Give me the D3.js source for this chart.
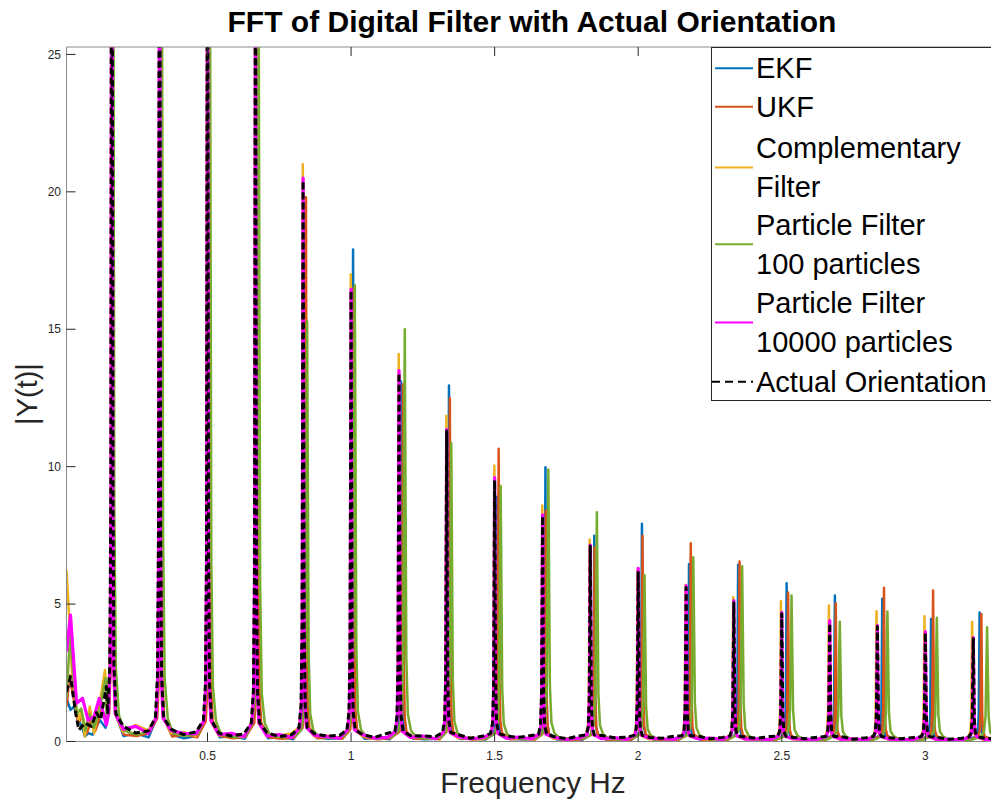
<!DOCTYPE html>
<html>
<head>
<meta charset="utf-8">
<script src="https://cdn.jsdelivr.net/npm/d3@7"></script>
<style>
  body { margin: 0; background: #fff; }
  text { font-family: "Liberation Sans", Arial, sans-serif; }
</style>
</head>
<body>
<div id="chart"></div>
<script>
// Series names and colours (MATLAB default order + magenta + black dashed)
const seriesNames = ["EKF", "UKF", "Complementary Filter", "Particle Filter 100 particles", "Particle Filter 10000 particles", "Actual Orientation"];
const seriesColors = ["#0072BD", "#D95319", "#EDB120", "#77AC30", "#FF00FF", "#000000"];

// Harmonic peak frequencies (Hz), one array per series
const peakFreqEKF  = [0.168, 0.335, 0.503, 0.671, 0.838, 1.007, 1.174, 1.341, 1.509, 1.677, 1.847, 2.013, 2.177, 2.348, 2.517, 2.685, 2.850, 3.020, 3.189];
const peakFreqUKF  = [0.169, 0.337, 0.506, 0.675, 0.843, 1.009, 1.181, 1.344, 1.514, 1.678, 1.848, 2.015, 2.183, 2.353, 2.522, 2.688, 2.856, 3.027, 3.195];
const peakFreqComp = [0.166, 0.333, 0.499, 0.666, 0.832, 0.999, 1.166, 1.332, 1.499, 1.666, 1.831, 1.998, 2.165, 2.331, 2.497, 2.664, 2.830, 2.997, 3.163];
const peakFreqPF100 = [0.170, 0.340, 0.508, 0.678, 0.847, 1.013, 1.187, 1.349, 1.521, 1.687, 1.856, 2.022, 2.192, 2.362, 2.534, 2.702, 2.868, 3.040, 3.215];
const peakFreqPF10k = [0.167, 0.333, 0.500, 0.667, 0.833, 1.000, 1.167, 1.333, 1.500, 1.667, 1.833, 2.000, 2.167, 2.333, 2.500, 2.667, 2.833, 3.000, 3.167];
const peakFreqActual = [0.167, 0.333, 0.500, 0.667, 0.833, 1.000, 1.167, 1.333, 1.500, 1.667, 1.833, 2.000, 2.167, 2.333, 2.500, 2.667, 2.833, 3.000, 3.167];

// Peak heights |Y| (first four run off the top of the axes)
const peakEKF    = [45, 38, 33, 29, 19.5, 17.8, 13.0, 12.85, 8.8, 9.88, 7.39, 7.82, 6.36, 6.33, 5.66, 5.21, 5.09, 4.36, 4.59];
const peakUKF    = [44, 37, 32, 29, 19.7, 16.4, 12.9, 12.4, 10.55, 8.3, 6.97, 7.39, 7.11, 6.45, 5.32, 4.93, 5.49, 5.39, 4.54];
const peakComp   = [46, 39, 33, 30, 20.9, 16.9, 14.0, 11.75, 9.94, 8.49, 7.25, 6.15, 5.6, 5.15, 5.0, 4.85, 4.64, 4.46, 4.26];
const peakPF100  = [43, 37, 32, 28, 15.2, 16.5, 14.9, 10.75, 9.2, 9.8, 8.24, 5.96, 6.6, 6.28, 5.21, 4.26, 4.63, 4.4, 4.06];
const peakPF10k  = [45, 38, 33, 29, 20.4, 16.35, 13.4, 11.25, 9.5, 8.15, 7.05, 6.2, 5.57, 5.03, 4.6, 4.3, 4.12, 3.9, 3.68];
const peakActual = [45, 38, 33, 29, 20.3, 16.3, 13.3, 11.2, 9.4, 8.1, 7.0, 6.1, 5.5, 4.95, 4.55, 4.2, 4.08, 3.86, 3.64];

// Low-frequency start of each spectrum, [Hz, |Y|]
const lowEKF    = [[0.009, 1.57], [0.023, 1.15], [0.035, 1.27], [0.05, 0.78], [0.063, 0.55], [0.073, 0.19], [0.085, 0.3], [0.1, 0.25], [0.125, 0.78], [0.145, 0.5]];
const lowUKF    = [[0.009, 1.27], [0.02, 2.4], [0.035, 1.5], [0.05, 0.7], [0.065, 0.9], [0.08, 0.3], [0.095, 0.8], [0.11, 0.4], [0.13, 1.1], [0.145, 0.9]];
const lowComp   = [[0.009, 6.24], [0.018, 4.6], [0.028, 2.5], [0.04, 1.46], [0.052, 0.78], [0.061, 1.11], [0.073, 0.19], [0.09, 1.27], [0.105, 0.3], [0.125, 1.39], [0.143, 2.6]];
const lowPF100  = [[0.009, 1.6], [0.022, 3.95], [0.035, 2.0], [0.045, 1.0], [0.06, 1.2], [0.075, 0.4], [0.09, 1.0], [0.105, 0.5], [0.125, 1.2], [0.145, 2.3]];
const lowPF10k  = [[0.009, 3.27], [0.023, 4.6], [0.044, 1.39], [0.065, 1.57], [0.084, 0.78], [0.105, 0.9], [0.123, 1.57], [0.137, 1.04], [0.148, 0.6]];
const lowActual = [[0.009, 1.81], [0.023, 2.36], [0.041, 1.03], [0.052, 0.42], [0.073, 0.67], [0.096, 0.55], [0.113, 1.05], [0.128, 0.8], [0.148, 2.0]];

// Noise floor between peaks, three readings after each peak
const floorEKF    = [0.2,0.3,0.15, 0.25,0.12,0.2, 0.15,0.2,0.1, 0.12,0.18,0.08, 0.15,0.1,0.12, 0.1,0.14,0.08, 0.12,0.08,0.1, 0.09,0.11,0.07, 0.1,0.08,0.09, 0.07,0.09,0.06, 0.08,0.07,0.06, 0.07,0.06,0.08, 0.06,0.07,0.05, 0.07,0.05,0.06, 0.05,0.06,0.05, 0.06,0.05,0.04, 0.05,0.04,0.05, 0.04,0.05,0.04, 0.05,0.04,0.04];
const floorUKF    = [0.25,0.2,0.3, 0.18,0.25,0.15, 0.2,0.12,0.18, 0.15,0.1,0.14, 0.12,0.15,0.1, 0.14,0.08,0.12, 0.1,0.12,0.08, 0.12,0.07,0.1, 0.08,0.1,0.07, 0.09,0.06,0.08, 0.07,0.08,0.06, 0.08,0.05,0.07, 0.06,0.07,0.05, 0.07,0.05,0.06, 0.05,0.06,0.04, 0.06,0.04,0.05, 0.05,0.05,0.04, 0.04,0.05,0.04, 0.04,0.04,0.03];
const floorComp   = [0.35,0.6,0.4, 0.3,0.35,0.2, 0.22,0.3,0.15, 0.25,0.2,0.3, 0.18,0.22,0.12, 0.2,0.1,0.15, 0.15,0.18,0.1, 0.12,0.15,0.08, 0.14,0.1,0.12, 0.1,0.12,0.08, 0.12,0.09,0.1, 0.08,0.1,0.07, 0.1,0.08,0.09, 0.07,0.09,0.06, 0.08,0.06,0.08, 0.06,0.08,0.05, 0.07,0.05,0.06, 0.06,0.07,0.05, 0.05,0.06,0.05];
const floorPF100  = [0.4,0.25,0.35, 0.3,0.2,0.28, 0.25,0.15,0.22, 0.22,0.15,0.2, 0.2,0.12,0.18, 0.18,0.1,0.16, 0.16,0.1,0.15, 0.15,0.09,0.14, 0.14,0.08,0.13, 0.13,0.08,0.12, 0.12,0.07,0.12, 0.12,0.07,0.11, 0.11,0.06,0.1, 0.1,0.06,0.1, 0.1,0.05,0.09, 0.09,0.05,0.09, 0.09,0.05,0.08, 0.08,0.05,0.08, 0.08,0.04,0.07];
const floorPF10k  = [0.45,0.55,0.3, 0.4,0.3,0.28, 0.25,0.3,0.18, 0.2,0.25,0.15, 0.22,0.18,0.12, 0.25,0.12,0.15, 0.15,0.2,0.1, 0.18,0.1,0.14, 0.12,0.16,0.1, 0.15,0.08,0.12, 0.1,0.14,0.08, 0.12,0.1,0.09, 0.1,0.12,0.08, 0.09,0.1,0.07, 0.1,0.08,0.09, 0.08,0.1,0.06, 0.09,0.07,0.08, 0.07,0.08,0.06, 0.08,0.06,0.07];
const floorActual = [0.55,0.31,0.38, 0.45,0.25,0.35, 0.3,0.2,0.28, 0.32,0.18,0.25, 0.28,0.2,0.22, 0.25,0.15,0.3, 0.22,0.2,0.18, 0.25,0.12,0.2, 0.2,0.15,0.22, 0.18,0.1,0.2, 0.22,0.14,0.16, 0.15,0.12,0.2, 0.2,0.1,0.15, 0.16,0.12,0.18, 0.15,0.1,0.16, 0.18,0.08,0.14, 0.14,0.1,0.15, 0.15,0.08,0.12, 0.12,0.1,0.1];

const xTicks = [0.5, 1, 1.5, 2, 2.5, 3];
const yTicks = [0, 5, 10, 15, 20, 25];

// Drawing helpers (shape of a spike and where floor readings sit)
const peakShape = [[-0.012, 0.02], [-0.006, 0.06], [-0.003, 0.2], [0, 1], [0.003, 0.2], [0.006, 0.06], [0.012, 0.02]];
const gapOffsets = [0.04, 0.083, 0.127];

const width = 991, height = 800;
const x = d3.scaleLinear().domain([0.009, 3.26]).range([66.5, 1000]);
const y = d3.scaleLinear().domain([0, 25.27]).range([741.5, 47]);

const svg = d3.select("#chart").append("svg")
  .attr("width", width)
  .attr("height", height);

svg.append("defs").append("clipPath").attr("id", "plotClip")
  .append("rect")
  .attr("x", x.range()[0]).attr("y", y.range()[1])
  .attr("width", x.range()[1] - x.range()[0])
  .attr("height", y.range()[0] - y.range()[1]);

function buildSeries(low, peakF, peakH, floor, widen) {
  const pts = low.map(([f, v]) => ({ f, v }));
  peakF.forEach((pf, i) => {
    peakShape.forEach(([off, frac]) => pts.push({ f: pf + off * widen, v: 0.1 + frac * peakH[i] }));
    gapOffsets.forEach((off, j) => pts.push({ f: pf + off, v: floor[i * 3 + j] }));
  });
  return pts.sort((a, b) => a.f - b.f);
}

const series = [
  buildSeries(lowEKF, peakFreqEKF, peakEKF, floorEKF, 1),
  buildSeries(lowUKF, peakFreqUKF, peakUKF, floorUKF, 1),
  buildSeries(lowComp, peakFreqComp, peakComp, floorComp, 1),
  buildSeries(lowPF100, peakFreqPF100, peakPF100, floorPF100, 1.8),
  buildSeries(lowPF10k, peakFreqPF10k, peakPF10k, floorPF10k, 1),
  buildSeries(lowActual, peakFreqActual, peakActual, floorActual, 1.2)
];

const line = d3.line().x(d => x(d.f)).y(d => y(d.v));
const lineWidths = [2.5, 2.5, 2.5, 2.5, 3.2, 3];

const plot = svg.append("g").attr("clip-path", "url(#plotClip)");
series.forEach((pts, i) => {
  plot.append("path")
    .attr("d", line(pts))
    .attr("fill", "none")
    .attr("stroke", seriesColors[i])
    .attr("stroke-width", lineWidths[i])
    .attr("stroke-dasharray", i === 5 ? "6.5,3.5" : null)
    .attr("stroke-linejoin", "round");
});

// Axes box and ticks
const axisColor = "#262626";
const x0 = x.range()[0], x1 = x.range()[1], yb = y.range()[0], yt = y.range()[1];
svg.append("path")
  .attr("d", `M${x1},${yt}H${x0}V${yb}H${x1}`)
  .attr("fill", "none").attr("stroke", "#8a8a8a").attr("stroke-width", 1);

xTicks.forEach(t => {
  svg.append("line").attr("x1", x(t)).attr("x2", x(t)).attr("y1", yb).attr("y2", yb - 9)
    .attr("stroke", axisColor);
  svg.append("line").attr("x1", x(t)).attr("x2", x(t)).attr("y1", yt).attr("y2", yt + 9)
    .attr("stroke", axisColor);
  svg.append("text").attr("x", x(t)).attr("y", 760)
    .attr("text-anchor", "middle").attr("font-size", 12).attr("fill", axisColor)
    .text(t);
});
yTicks.forEach(t => {
  svg.append("line").attr("x1", x0).attr("x2", x0 + 9).attr("y1", y(t)).attr("y2", y(t))
    .attr("stroke", axisColor);
  svg.append("text").attr("x", 61).attr("y", y(t)).attr("dy", "0.35em")
    .attr("text-anchor", "end").attr("font-size", 12).attr("fill", axisColor)
    .text(t);
});

// Title and axis labels
svg.append("text").attr("x", 532).attr("y", 32)
  .attr("text-anchor", "middle").attr("font-size", 30).attr("font-weight", "bold")
  .attr("fill", "#000").text("FFT of Digital Filter with Actual Orientation");
svg.append("text").attr("x", 533).attr("y", 793)
  .attr("text-anchor", "middle").attr("font-size", 29.8).attr("fill", axisColor)
  .text("Frequency Hz");
svg.append("text").attr("transform", "translate(37,394) rotate(-90)")
  .attr("text-anchor", "middle").attr("font-size", 29).attr("fill", axisColor)
  .text("|Y(t)|");

// Legend
const legendRows = [
  { lines: ["EKF"], top: 68.3 },
  { lines: ["UKF"], top: 106.7 },
  { lines: ["Complementary", "Filter"], top: 148.3 },
  { lines: ["Particle Filter", "100 particles"], top: 225 },
  { lines: ["Particle Filter", "10000 particles"], top: 303.3 },
  { lines: ["Actual Orientation"], top: 381.7 }
];
const lg = svg.append("g");
lg.append("rect").attr("x", 711.5).attr("y", 47.5).attr("width", 300).attr("height", 353)
  .attr("fill", "#fff").attr("stroke", axisColor);
legendRows.forEach((row, i) => {
  const ly = row.top + (row.lines.length - 1) * 38.4 / 2;
  lg.append("line").attr("x1", i === 5 ? 712 : 715).attr("x2", 753).attr("y1", ly).attr("y2", ly)
    .attr("stroke", seriesColors[i]).attr("stroke-width", 2)
    .attr("stroke-dasharray", i === 5 ? "8,5" : null);
  row.lines.forEach((t, j) => {
    lg.append("text").attr("x", 756).attr("y", row.top + j * 38.4).attr("dy", "0.35em")
      .attr("font-size", 29).attr("fill", "#000").text(t);
  });
});
</script>
</body>
</html>
